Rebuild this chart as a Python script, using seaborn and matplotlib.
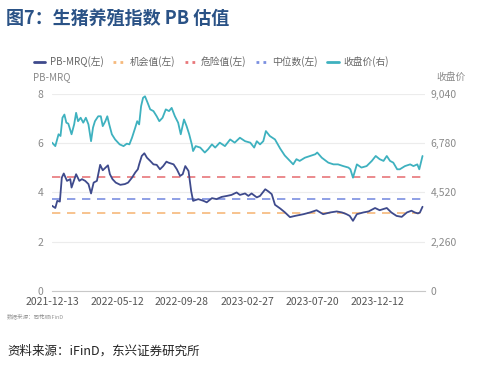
import numpy as np
import pandas as pd
import seaborn as sns
import matplotlib.pyplot as plt
from matplotlib.lines import Line2D

# 数据
pb_idx = [0, 5, 8, 12, 15, 18, 23, 28, 30, 37, 42, 46, 51, 56, 60, 64, 69, 74, 78, 82,
          86, 89, 93, 98, 105, 112, 117, 123, 128, 132, 134, 138, 142, 146, 151, 156, 161, 166, 171, 176,
          179, 187, 192, 197, 201, 205, 210, 214, 217, 225, 233, 238, 246, 253, 261, 269, 276, 284, 289, 297,
          302, 307, 315, 320, 328, 333, 338, 343, 351, 358, 366, 374, 387, 397, 407, 417, 428, 438, 446, 453,
          458, 463, 469, 479, 487, 497, 504, 515, 522, 530, 538, 546, 553, 558, 563, 566, 570]
pb_val = [3.46, 3.37, 3.66, 3.63, 4.60, 4.77, 4.47, 4.54, 4.20, 4.74, 4.47, 4.54, 4.47, 4.34, 3.96, 4.40, 4.47, 5.12, 4.90, 5.00,
          5.10, 4.74, 4.54, 4.40, 4.31, 4.34, 4.40, 4.60, 4.81, 4.94, 5.14, 5.48, 5.59, 5.41, 5.28, 5.14, 5.12, 4.94, 5.07, 5.25,
          5.21, 5.14, 4.94, 4.67, 4.74, 5.07, 4.87, 4.06, 3.66, 3.73, 3.66, 3.60, 3.77, 3.73, 3.82, 3.86, 3.90, 4.00, 3.90, 3.96,
          3.86, 3.96, 3.80, 3.86, 4.13, 4.04, 3.93, 3.50, 3.35, 3.20, 3.00, 3.05, 3.12, 3.19, 3.28, 3.12, 3.19, 3.23, 3.19, 3.12,
          3.05, 2.85, 3.12, 3.19, 3.23, 3.37, 3.28, 3.37, 3.19, 3.05, 3.01, 3.19, 3.26, 3.19, 3.15, 3.19, 3.42]

px_idx = [0, 5, 10, 13, 16, 19, 22, 25, 30, 34, 37, 40, 44, 48, 52, 56, 60, 63, 66, 71,
          75, 78, 82, 85, 88, 92, 97, 104, 110, 115, 119, 123, 128, 131, 134, 137, 140, 143, 147, 151,
          156, 161, 165, 170, 175, 180, 184, 189, 194, 198, 203, 207, 211, 215, 217, 221, 228, 235, 240, 246,
          251, 258, 266, 274, 281, 289, 297, 305, 311, 315, 320, 325, 329, 335, 343, 351, 358, 366, 371, 376,
          381, 389, 397, 405, 408, 415, 425, 433, 440, 448, 456, 459, 463, 469, 476, 484, 492, 498, 504, 510,
          515, 520, 525, 531, 535, 543, 551, 556, 562, 565, 570]
px_val = [6803, 6644, 7187, 7108, 7944, 8091, 7718, 7673, 7187, 7639, 8170, 7786, 7944, 7718, 7944, 7639, 6870, 7492, 7786, 8012,
          8012, 7560, 7786, 8012, 7639, 7187, 6950, 6724, 6644, 6757, 6724, 7029, 7492, 7786, 7639, 8475, 8859, 8927, 8633, 8328,
          8249, 8012, 7786, 7944, 8328, 8249, 8396, 8012, 7718, 7187, 7865, 7560, 7187, 6724, 6418, 6644, 6577, 6351, 6498, 6724,
          6577, 6803, 6644, 6950, 6803, 7029, 6870, 6803, 6577, 6870, 6724, 6870, 7334, 7108, 6950, 6531, 6215, 5966, 5808, 6046,
          5966, 6113, 6192, 6272, 6351, 6113, 5887, 5808, 5808, 5729, 5661, 5582, 5198, 5808, 5661, 5729, 5966, 6192, 6046, 5966,
          6192, 5966, 5887, 5582, 5582, 5729, 5808, 5729, 5808, 5582, 6192]

danger = 4.61
median = 3.75
chance = 3.16

tick_pos = [0, 100, 200, 300, 400, 500]
tick_labels = ['2021-12-13', '2022-05-12', '2022-09-28', '2023-02-27', '2023-07-20', '2023-12-12']

sns.set_style('white')
plt.rcParams['font.family'] = ['Noto Sans CJK SC', 'DejaVu Sans']

c_pb = '#3e4a8c'
c_px = '#3eb1bf'
c_red = '#e8777a'
c_blue = '#7b8fe0'
c_orange = '#f6b97c'
c_txt = '#8a8a8a'

fig = plt.figure(figsize=(4.82, 3.68), dpi=100)
ax = fig.add_axes([0.108, 0.209, 0.774, 0.536])
ax2 = ax.twinx()

pb_df = pd.DataFrame({'idx': pb_idx, 'pb': pb_val})
px_df = pd.DataFrame({'idx': px_idx, 'price': px_val})

sns.lineplot(data=px_df, x='idx', y='price', ax=ax2, color=c_px, lw=1.3)
sns.lineplot(data=pb_df, x='idx', y='pb', ax=ax, color=c_pb, lw=1.3)
for v, c in [(danger, c_red), (median, c_blue), (chance, c_orange)]:
    ax.axhline(v, color=c, lw=1.2, ls=(0, (5, 4)), zorder=1)

ax.set_xlim(0, 574)
ax.set_ylim(0, 8)
ax2.set_ylim(0, 9040)
ax.set_yticks([0, 2, 4, 6, 8])
ax2.set_yticks([0, 2260, 4520, 6780, 9040])
ax2.set_yticklabels(['0', '2,260', '4,520', '6,780', '9,040'])
ax.set_xticks(tick_pos)
ax.set_xticklabels(tick_labels)
ax.grid(axis='y', color='#ececec', lw=0.8)
ax.set_axisbelow(True)
ax.set_xlabel('')
ax.set_ylabel('')
ax2.set_ylabel('')
for a in (ax, ax2):
    for s in a.spines.values():
        s.set_visible(False)
ax.spines['bottom'].set_visible(True)
ax.spines['bottom'].set_color('#c8c8c8')
ax.tick_params(axis='x', length=0, pad=4, labelsize=7.5, labelcolor='#555555')
ax.tick_params(axis='y', length=0, pad=6, labelsize=7.5, labelcolor=c_txt)
ax2.tick_params(axis='y', length=0, pad=4, labelsize=7.5, labelcolor=c_txt)

fig.text(0.068, 0.782, 'PB-MRQ', fontsize=7, color=c_txt)
fig.text(0.935, 0.782, '收盘价', fontsize=7, color=c_txt, ha='center')

handles = [Line2D([], [], color=c_pb, lw=2),
           Line2D([], [], color=c_orange, lw=2, ls=(0, (1, 1.5))),
           Line2D([], [], color=c_red, lw=2, ls=(0, (1, 1.5))),
           Line2D([], [], color=c_blue, lw=2, ls=(0, (1, 1.5))),
           Line2D([], [], color=c_px, lw=2)]
labels = ['PB-MRQ(左)', '机会值(左)', '危险值(左)', '中位数(左)', '收盘价(右)']
fig.legend(handles, labels, loc='center left', bbox_to_anchor=(0.052, 0.832), ncol=5, frameon=False,
           fontsize=7, labelcolor='#666666', handlelength=1.2, handletextpad=0.45, columnspacing=1.0)

fig.text(0.012, 0.952, '图7：生猪养殖指数 PB 估值', fontsize=13, fontweight='bold', color='#2a5286', va='center')
fig.text(0.015, 0.135, '数据来源：同花顺iFinD', fontsize=4, color='#999999')
fig.text(0.015, 0.035, '资料来源：iFinD，东兴证券研究所', fontsize=9, style='italic', color='#222222')

fig.savefig('out.png', dpi=100)
